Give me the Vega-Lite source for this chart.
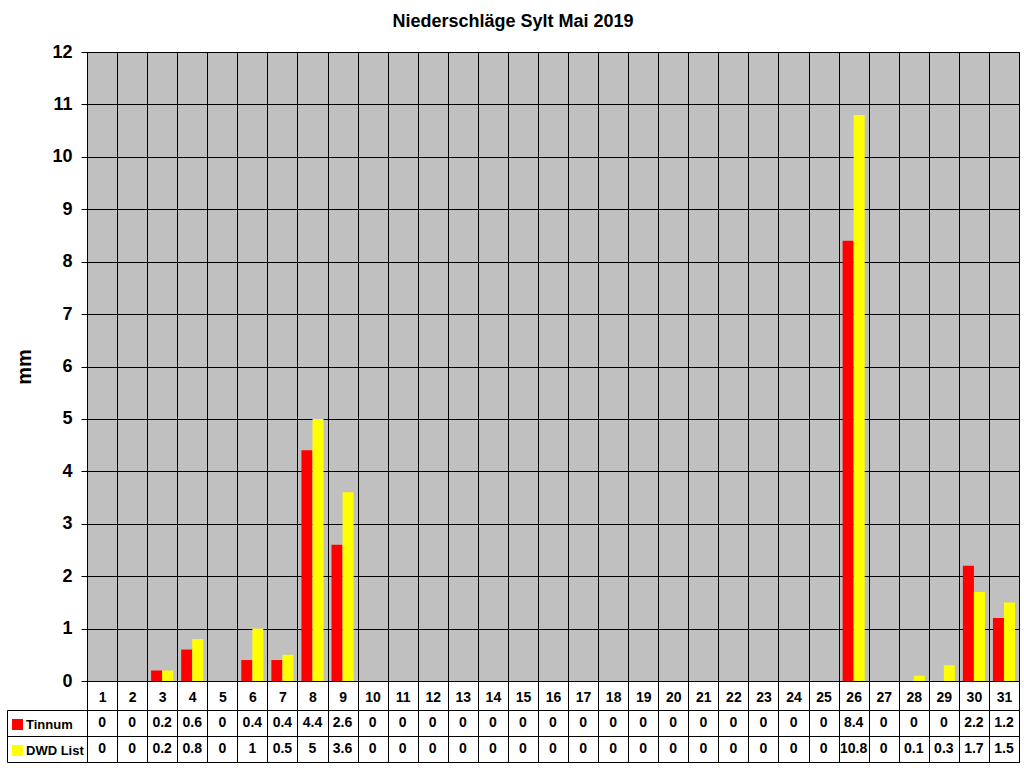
{
  "$schema": "https://vega.github.io/schema/vega-lite/v6.json",
  "description": "Niederschläge Sylt Mai 2019, Tinnum vs DWD List, with data table",
  "padding": {"left": 6, "top": 12, "right": 6, "bottom": 2},
  "background": "white",
  "title": {
    "text": "Niederschläge Sylt Mai 2019",
    "font": "Liberation Sans",
    "fontSize": 18,
    "fontWeight": "bold",
    "color": "black",
    "anchor": "middle",
    "frame": "bounds",
    "offset": 12
  },
  "data": {
    "values": [
      {"day": 1, "Tinnum": 0, "DWD List": 0},
      {"day": 2, "Tinnum": 0, "DWD List": 0},
      {"day": 3, "Tinnum": 0.2, "DWD List": 0.2},
      {"day": 4, "Tinnum": 0.6, "DWD List": 0.8},
      {"day": 5, "Tinnum": 0, "DWD List": 0},
      {"day": 6, "Tinnum": 0.4, "DWD List": 1},
      {"day": 7, "Tinnum": 0.4, "DWD List": 0.5},
      {"day": 8, "Tinnum": 4.4, "DWD List": 5},
      {"day": 9, "Tinnum": 2.6, "DWD List": 3.6},
      {"day": 10, "Tinnum": 0, "DWD List": 0},
      {"day": 11, "Tinnum": 0, "DWD List": 0},
      {"day": 12, "Tinnum": 0, "DWD List": 0},
      {"day": 13, "Tinnum": 0, "DWD List": 0},
      {"day": 14, "Tinnum": 0, "DWD List": 0},
      {"day": 15, "Tinnum": 0, "DWD List": 0},
      {"day": 16, "Tinnum": 0, "DWD List": 0},
      {"day": 17, "Tinnum": 0, "DWD List": 0},
      {"day": 18, "Tinnum": 0, "DWD List": 0},
      {"day": 19, "Tinnum": 0, "DWD List": 0},
      {"day": 20, "Tinnum": 0, "DWD List": 0},
      {"day": 21, "Tinnum": 0, "DWD List": 0},
      {"day": 22, "Tinnum": 0, "DWD List": 0},
      {"day": 23, "Tinnum": 0, "DWD List": 0},
      {"day": 24, "Tinnum": 0, "DWD List": 0},
      {"day": 25, "Tinnum": 0, "DWD List": 0},
      {"day": 26, "Tinnum": 8.4, "DWD List": 10.8},
      {"day": 27, "Tinnum": 0, "DWD List": 0},
      {"day": 28, "Tinnum": 0, "DWD List": 0.1},
      {"day": 29, "Tinnum": 0, "DWD List": 0.3},
      {"day": 30, "Tinnum": 2.2, "DWD List": 1.7},
      {"day": 31, "Tinnum": 1.2, "DWD List": 1.5}
    ]
  },
  "transform": [
    {"fold": ["Tinnum", "DWD List"], "as": ["station", "mm"]}
  ],
  "bounds": "flush",
  "spacing": 29,
  "vconcat": [
    {
      "width": 932,
      "height": 629,
      "view": {"fill": "#C0C0C0", "stroke": "black", "strokeWidth": 1},
      "mark": {"type": "bar"},
      "encoding": {
        "x": {
          "field": "day",
          "type": "ordinal",
          "scale": {"paddingInner": 0, "paddingOuter": 0},
          "axis": {
            "title": null,
            "labelAngle": 0,
            "labelFont": "Liberation Sans",
            "labelFontSize": 14,
            "labelFontWeight": "bold",
            "labelColor": "black",
            "labelBaseline": "middle",
            "labelPadding": -13,
            "tickBand": "extent",
            "tickSize": 29,
            "tickColor": "black",
            "domainColor": "black",
            "grid": true,
            "gridColor": "black",
            "gridOpacity": 1
          }
        },
        "xOffset": {
          "field": "station",
          "type": "nominal",
          "sort": ["Tinnum", "DWD List"],
          "scale": {"paddingInner": 0, "paddingOuter": 0.36}
        },
        "y": {
          "field": "mm",
          "type": "quantitative",
          "scale": {"domain": [0, 12], "nice": false},
          "axis": {
            "title": "mm",
            "titleFont": "Liberation Sans",
            "titleFontSize": 20,
            "titleFontWeight": "bold",
            "titleColor": "black",
            "titlePadding": 17,
            "values": [0, 1, 2, 3, 4, 5, 6, 7, 8, 9, 10, 11, 12],
            "labelFont": "Liberation Sans",
            "labelFontSize": 18,
            "labelFontWeight": "bold",
            "labelColor": "black",
            "labelPadding": 9,
            "tickSize": 6,
            "tickColor": "black",
            "domainColor": "black",
            "grid": true,
            "gridColor": "black",
            "gridOpacity": 1
          }
        },
        "color": {
          "field": "station",
          "type": "nominal",
          "scale": {"domain": ["Tinnum", "DWD List"], "range": ["#FF0000", "#FFFF00"]},
          "legend": {
            "orient": "none",
            "legendX": -76,
            "legendY": 666,
            "title": null,
            "padding": 0,
            "symbolType": "square",
            "symbolSize": 121,
            "symbolStrokeWidth": 0,
            "symbolOpacity": 1,
            "rowPadding": 12,
            "labelOffset": 2,
            "labelFont": "Liberation Sans",
            "labelFontSize": 13,
            "labelFontWeight": "bold",
            "labelColor": "black"
          }
        }
      }
    },
    {
      "width": 932,
      "height": 52,
      "view": {"fill": "white", "stroke": "black", "strokeWidth": 1},
      "resolve": {"axis": {"y": "independent"}},
      "layer": [
        {
          "mark": {
            "type": "text",
            "font": "Liberation Sans",
            "fontSize": 14,
            "fontWeight": "bold",
            "color": "black",
            "align": "center",
            "baseline": "middle"
          },
          "encoding": {
            "x": {
              "field": "day",
              "type": "ordinal",
              "scale": {"paddingInner": 0, "paddingOuter": 0},
              "axis": {
                "title": null,
                "labels": false,
                "ticks": false,
                "domain": false,
                "tickBand": "extent",
                "grid": true,
                "gridColor": "black",
                "gridOpacity": 1
              }
            },
            "y": {
              "field": "station",
              "type": "nominal",
              "sort": ["Tinnum", "DWD List"],
              "scale": {"paddingInner": 0, "paddingOuter": 0},
              "axis": {
                "title": null,
                "labels": false,
                "domain": false,
                "tickBand": "extent",
                "tickSize": 80,
                "tickColor": "black",
                "grid": true,
                "gridColor": "black",
                "gridOpacity": 1
              }
            },
            "text": {"field": "mm", "type": "nominal"}
          }
        },
        {
          "mark": {"type": "text", "text": ""},
          "encoding": {
            "y": {
              "field": "station",
              "type": "nominal",
              "sort": ["Tinnum", "DWD List"],
              "scale": {"paddingInner": 0, "paddingOuter": 0},
              "axis": {
                "orient": "left",
                "title": null,
                "labels": false,
                "ticks": false,
                "grid": false,
                "offset": 80,
                "domain": true,
                "domainColor": "black"
              }
            }
          }
        }
      ]
    }
  ]
}
